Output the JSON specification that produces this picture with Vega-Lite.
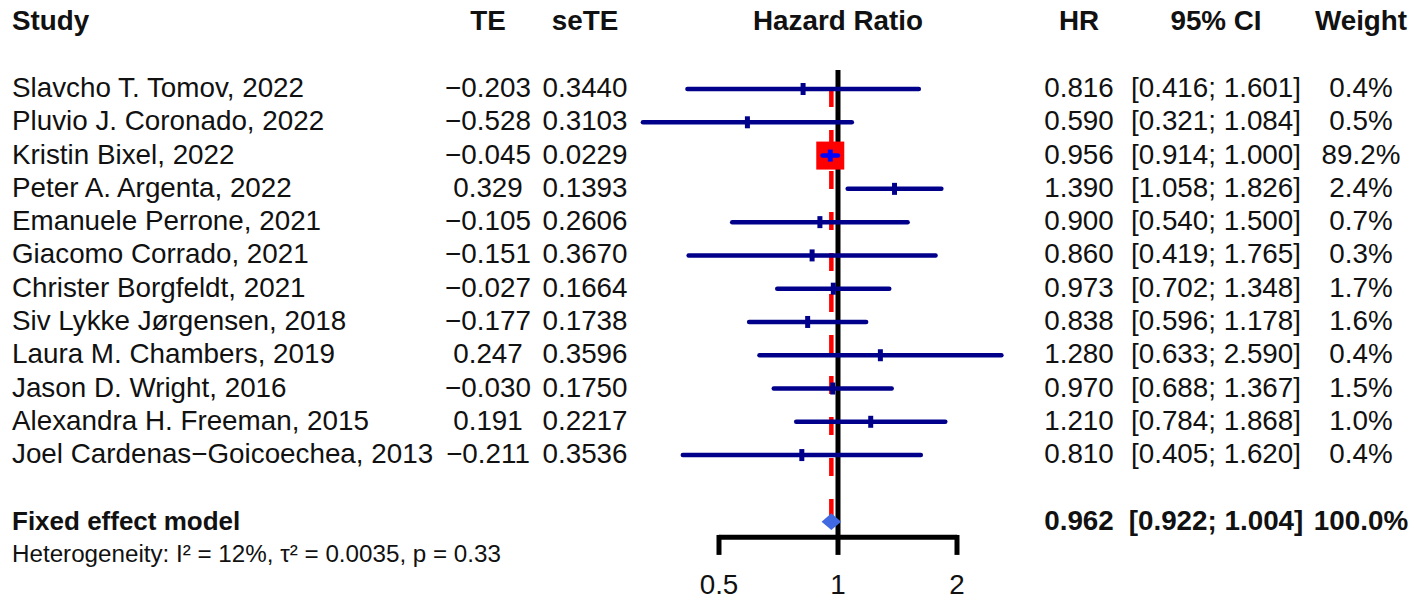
{
  "$schema": "https://vega.github.io/schema/vega-lite/v6.json",
  "padding": {"left": 12, "top": 0, "right": 0, "bottom": 0},
  "spacing": 0,
  "bounds": "flush",
  "background": "white",
  "config": {
    "view": {"stroke": null},
    "text": {"font": "Liberation Sans", "fontSize": 27.8, "color": "#111111", "baseline": "middle"}
  },
  "datasets": {
    "rows": [
      {"row": 1, "kind": "study", "study": "Slavcho T. Tomov, 2022", "te": -0.203, "sete": 0.3440, "hr": 0.816, "lower": 0.416, "upper": 1.601, "weight": 0.4},
      {"row": 2, "kind": "study", "study": "Pluvio J. Coronado, 2022", "te": -0.528, "sete": 0.3103, "hr": 0.590, "lower": 0.321, "upper": 1.084, "weight": 0.5},
      {"row": 3, "kind": "study", "study": "Kristin Bixel, 2022", "te": -0.045, "sete": 0.0229, "hr": 0.956, "lower": 0.914, "upper": 1.000, "weight": 89.2},
      {"row": 4, "kind": "study", "study": "Peter A. Argenta, 2022", "te": 0.329, "sete": 0.1393, "hr": 1.390, "lower": 1.058, "upper": 1.826, "weight": 2.4},
      {"row": 5, "kind": "study", "study": "Emanuele Perrone, 2021", "te": -0.105, "sete": 0.2606, "hr": 0.900, "lower": 0.540, "upper": 1.500, "weight": 0.7},
      {"row": 6, "kind": "study", "study": "Giacomo Corrado, 2021", "te": -0.151, "sete": 0.3670, "hr": 0.860, "lower": 0.419, "upper": 1.765, "weight": 0.3},
      {"row": 7, "kind": "study", "study": "Christer Borgfeldt, 2021", "te": -0.027, "sete": 0.1664, "hr": 0.973, "lower": 0.702, "upper": 1.348, "weight": 1.7},
      {"row": 8, "kind": "study", "study": "Siv Lykke Jørgensen, 2018", "te": -0.177, "sete": 0.1738, "hr": 0.838, "lower": 0.596, "upper": 1.178, "weight": 1.6},
      {"row": 9, "kind": "study", "study": "Laura M. Chambers, 2019", "te": 0.247, "sete": 0.3596, "hr": 1.280, "lower": 0.633, "upper": 2.590, "weight": 0.4},
      {"row": 10, "kind": "study", "study": "Jason D. Wright, 2016", "te": -0.030, "sete": 0.1750, "hr": 0.970, "lower": 0.688, "upper": 1.367, "weight": 1.5},
      {"row": 11, "kind": "study", "study": "Alexandra H. Freeman, 2015", "te": 0.191, "sete": 0.2217, "hr": 1.210, "lower": 0.784, "upper": 1.868, "weight": 1.0},
      {"row": 12, "kind": "study", "study": "Joel Cardenas−Goicoechea, 2013", "te": -0.211, "sete": 0.3536, "hr": 0.810, "lower": 0.405, "upper": 1.620, "weight": 0.4},
      {"row": 14, "kind": "fixed", "study": "Fixed effect model", "hr": 0.962, "lower": 0.922, "upper": 1.004, "weight": 100.0},
      {"row": 15, "kind": "het", "study": "Heterogeneity: I² = 12%, τ² = 0.0035, p = 0.33"}
    ],
    "headers": [
      {"row": -1, "col": "study", "label": "Study"},
      {"row": -1, "col": "te", "label": "TE"},
      {"row": -1, "col": "sete", "label": "seTE"},
      {"row": -1, "col": "plot", "label": "Hazard Ratio"},
      {"row": -1, "col": "hr", "label": "HR"},
      {"row": -1, "col": "ci", "label": "95% CI"},
      {"row": -1, "col": "weight", "label": "Weight"}
    ],
    "ticks": [{"v": 0.5}, {"v": 1}, {"v": 2}]
  },
  "hconcat": [
    {
      "width": 436, "height": 599,
      "layer": [
        {"data": {"name": "headers"}, "transform": [{"filter": "datum.col === 'study'"}],
         "mark": {"type": "text", "align": "left", "fontWeight": "bold"},
         "encoding": {"x": {"value": 0}, "y": {"field": "row", "type": "quantitative", "scale": {"domain": [-1.675, 16.325], "reverse": true, "nice": false, "zero": false}, "axis": null}, "text": {"field": "label"}}},
        {"data": {"name": "rows"}, "transform": [{"filter": "datum.kind === 'study'"}],
         "mark": {"type": "text", "align": "left"},
         "encoding": {"x": {"value": 0}, "y": {"field": "row", "type": "quantitative", "scale": {"domain": [-1.675, 16.325], "reverse": true, "nice": false, "zero": false}, "axis": null}, "text": {"field": "study"}}},
        {"data": {"name": "rows"}, "transform": [{"filter": "datum.kind === 'fixed'"}],
         "mark": {"type": "text", "align": "left", "fontWeight": "bold", "fontSize": 26},
         "encoding": {"x": {"value": 0}, "y": {"field": "row", "type": "quantitative", "scale": {"domain": [-1.675, 16.325], "reverse": true, "nice": false, "zero": false}, "axis": null}, "text": {"field": "study"}}},
        {"data": {"name": "rows"}, "transform": [{"filter": "datum.kind === 'het'"}],
         "mark": {"type": "text", "align": "left", "fontSize": 24.2},
         "encoding": {"x": {"value": 0}, "y": {"field": "row", "type": "quantitative", "scale": {"domain": [-1.675, 16.325], "reverse": true, "nice": false, "zero": false}, "axis": null}, "text": {"field": "study"}}}
      ]
    },
    {
      "width": 80, "height": 599,
      "layer": [
        {"data": {"name": "headers"}, "transform": [{"filter": "datum.col === 'te'"}],
         "mark": {"type": "text", "align": "center", "fontWeight": "bold"},
         "encoding": {"y": {"field": "row", "type": "quantitative", "scale": {"domain": [-1.675, 16.325], "reverse": true, "nice": false, "zero": false}, "axis": null}, "text": {"field": "label"}}},
        {"data": {"name": "rows"}, "transform": [{"filter": "datum.kind === 'study'"}],
         "mark": {"type": "text", "align": "center"},
         "encoding": {"y": {"field": "row", "type": "quantitative", "scale": {"domain": [-1.675, 16.325], "reverse": true, "nice": false, "zero": false}, "axis": null}, "text": {"field": "te", "type": "quantitative", "format": ".3f"}}}
      ]
    },
    {
      "width": 114, "height": 599,
      "layer": [
        {"data": {"name": "headers"}, "transform": [{"filter": "datum.col === 'sete'"}],
         "mark": {"type": "text", "align": "center", "fontWeight": "bold"},
         "encoding": {"y": {"field": "row", "type": "quantitative", "scale": {"domain": [-1.675, 16.325], "reverse": true, "nice": false, "zero": false}, "axis": null}, "text": {"field": "label"}}},
        {"data": {"name": "rows"}, "transform": [{"filter": "datum.kind === 'study'"}],
         "mark": {"type": "text", "align": "center"},
         "encoding": {"y": {"field": "row", "type": "quantitative", "scale": {"domain": [-1.675, 16.325], "reverse": true, "nice": false, "zero": false}, "axis": null}, "text": {"field": "sete", "type": "quantitative", "format": ".4f"}}}
      ]
    },
    {
      "width": 392, "height": 599,
      "layer": [
        {"data": {"name": "ticks"}, "transform": [{"filter": "datum.v === 1"}],
         "mark": {"type": "rule", "color": "#000000", "strokeWidth": 5},
         "encoding": {
           "x": {"field": "v", "type": "quantitative", "scale": {"type": "log", "domain": [0.3193, 3.132], "nice": false}, "axis": null},
           "y": {"datum": 0.43, "type": "quantitative", "scale": {"domain": [-1.675, 16.325], "reverse": true, "nice": false, "zero": false}, "axis": null},
           "y2": {"datum": 14.466}}},
        {"data": {"name": "rows"}, "transform": [{"filter": "datum.kind === 'fixed'"}],
         "mark": {"type": "rule", "color": "#FF0000", "strokeWidth": 4.5, "strokeDash": [18, 23]},
         "encoding": {
           "x": {"field": "hr", "type": "quantitative"},
           "y": {"datum": 1.0, "type": "quantitative"},
           "y2": {"datum": 13.85}}},
        {"data": {"name": "rows"}, "transform": [{"filter": "datum.kind === 'study' && datum.weight > 50"}],
         "mark": {"type": "square", "filled": true, "color": "#FF0000", "opacity": 1, "size": 784},
         "encoding": {
           "x": {"field": "hr", "type": "quantitative"},
           "y": {"field": "row", "type": "quantitative"}}},
        {"data": {"name": "rows"}, "transform": [{"filter": "datum.kind === 'study'"}],
         "mark": {"type": "rule", "strokeWidth": 4.5, "strokeCap": "round"},
         "encoding": {
           "x": {"field": "lower", "type": "quantitative"},
           "x2": {"field": "upper"},
           "y": {"field": "row", "type": "quantitative"},
           "color": {"condition": {"test": "datum.weight > 50", "value": "#0000FF"}, "value": "#00008B"}}},
        {"data": {"name": "rows"}, "transform": [{"filter": "datum.kind === 'study'"}],
         "mark": {"type": "tick", "orient": "vertical", "size": 12, "thickness": 5, "opacity": 1},
         "encoding": {
           "x": {"field": "hr", "type": "quantitative"},
           "y": {"field": "row", "type": "quantitative"},
           "color": {"condition": {"test": "datum.weight > 50", "value": "#0000FF"}, "value": "#00008B"}}},
        {"data": {"name": "rows"}, "transform": [{"filter": "datum.kind === 'fixed'"}],
         "mark": {"type": "point", "shape": "M-1,0L0,-0.85L1,0L0,0.85Z", "filled": true, "color": "#4169E1", "opacity": 1, "size": 380},
         "encoding": {
           "x": {"field": "hr", "type": "quantitative"},
           "y": {"field": "row", "type": "quantitative"}}},
        {"data": {"name": "ticks"},
         "mark": {"type": "rule", "color": "#000000", "strokeWidth": 5},
         "encoding": {
           "x": {"aggregate": "min", "field": "v", "type": "quantitative"},
           "x2": {"aggregate": "max", "field": "v"},
           "y": {"datum": 14.466, "type": "quantitative"}}},
        {"data": {"name": "ticks"},
         "mark": {"type": "rule", "color": "#000000", "strokeWidth": 5},
         "encoding": {
           "x": {"field": "v", "type": "quantitative"},
           "y": {"datum": 14.4, "type": "quantitative"},
           "y2": {"datum": 15.0}}},
        {"data": {"name": "ticks"},
         "mark": {"type": "text", "align": "center"},
         "encoding": {
           "x": {"field": "v", "type": "quantitative"},
           "y": {"datum": 15.94, "type": "quantitative"},
           "text": {"field": "v", "type": "quantitative", "format": "~g"}}},
        {"data": {"name": "headers"}, "transform": [{"filter": "datum.col === 'plot'"}],
         "mark": {"type": "text", "align": "center", "fontWeight": "bold"},
         "encoding": {
           "y": {"field": "row", "type": "quantitative"},
           "text": {"field": "label"}}}
      ]
    },
    {
      "width": 90, "height": 599,
      "layer": [
        {"data": {"name": "headers"}, "transform": [{"filter": "datum.col === 'hr'"}],
         "mark": {"type": "text", "align": "center", "fontWeight": "bold"},
         "encoding": {"y": {"field": "row", "type": "quantitative", "scale": {"domain": [-1.675, 16.325], "reverse": true, "nice": false, "zero": false}, "axis": null}, "text": {"field": "label"}}},
        {"data": {"name": "rows"}, "transform": [{"filter": "datum.kind === 'study'"}],
         "mark": {"type": "text", "align": "center"},
         "encoding": {"y": {"field": "row", "type": "quantitative", "scale": {"domain": [-1.675, 16.325], "reverse": true, "nice": false, "zero": false}, "axis": null}, "text": {"field": "hr", "type": "quantitative", "format": ".3f"}}},
        {"data": {"name": "rows"}, "transform": [{"filter": "datum.kind === 'fixed'"}],
         "mark": {"type": "text", "align": "center", "fontWeight": "bold"},
         "encoding": {"y": {"field": "row", "type": "quantitative", "scale": {"domain": [-1.675, 16.325], "reverse": true, "nice": false, "zero": false}, "axis": null}, "text": {"field": "hr", "type": "quantitative", "format": ".3f"}}}
      ]
    },
    {
      "width": 184, "height": 599,
      "layer": [
        {"data": {"name": "headers"}, "transform": [{"filter": "datum.col === 'ci'"}],
         "mark": {"type": "text", "align": "center", "fontWeight": "bold"},
         "encoding": {"y": {"field": "row", "type": "quantitative", "scale": {"domain": [-1.675, 16.325], "reverse": true, "nice": false, "zero": false}, "axis": null}, "text": {"field": "label"}}},
        {"data": {"name": "rows"}, "transform": [{"filter": "datum.kind === 'study'"}, {"calculate": "'[' + format(datum.lower, '.3f') + '; ' + format(datum.upper, '.3f') + ']'", "as": "ci"}],
         "mark": {"type": "text", "align": "center"},
         "encoding": {"y": {"field": "row", "type": "quantitative", "scale": {"domain": [-1.675, 16.325], "reverse": true, "nice": false, "zero": false}, "axis": null}, "text": {"field": "ci"}}},
        {"data": {"name": "rows"}, "transform": [{"filter": "datum.kind === 'fixed'"}, {"calculate": "'[' + format(datum.lower, '.3f') + '; ' + format(datum.upper, '.3f') + ']'", "as": "ci"}],
         "mark": {"type": "text", "align": "center", "fontWeight": "bold"},
         "encoding": {"y": {"field": "row", "type": "quantitative", "scale": {"domain": [-1.675, 16.325], "reverse": true, "nice": false, "zero": false}, "axis": null}, "text": {"field": "ci"}}}
      ]
    },
    {
      "width": 106, "height": 599,
      "layer": [
        {"data": {"name": "headers"}, "transform": [{"filter": "datum.col === 'weight'"}],
         "mark": {"type": "text", "align": "center", "fontWeight": "bold"},
         "encoding": {"y": {"field": "row", "type": "quantitative", "scale": {"domain": [-1.675, 16.325], "reverse": true, "nice": false, "zero": false}, "axis": null}, "text": {"field": "label"}}},
        {"data": {"name": "rows"}, "transform": [{"filter": "datum.kind === 'study'"}, {"calculate": "format(datum.weight, '.1f') + '%'", "as": "w"}],
         "mark": {"type": "text", "align": "center"},
         "encoding": {"y": {"field": "row", "type": "quantitative", "scale": {"domain": [-1.675, 16.325], "reverse": true, "nice": false, "zero": false}, "axis": null}, "text": {"field": "w"}}},
        {"data": {"name": "rows"}, "transform": [{"filter": "datum.kind === 'fixed'"}, {"calculate": "format(datum.weight, '.1f') + '%'", "as": "w"}],
         "mark": {"type": "text", "align": "center", "fontWeight": "bold"},
         "encoding": {"y": {"field": "row", "type": "quantitative", "scale": {"domain": [-1.675, 16.325], "reverse": true, "nice": false, "zero": false}, "axis": null}, "text": {"field": "w"}}}
      ]
    }
  ]
}
